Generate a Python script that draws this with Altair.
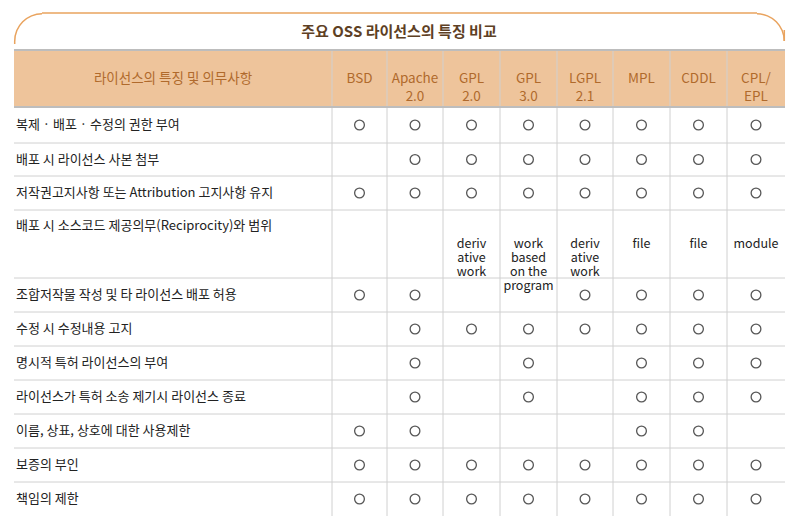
import altair as alt
import pandas as pd

title = "주요 OSS 라이선스의 특징 비교"
header_first = "라이선스의 특징 및 의무사항"
licenses = ["BSD", "Apache\n2.0", "GPL\n2.0", "GPL\n3.0", "LGPL\n2.1", "MPL", "CDDL", "CPL/\nEPL"]
features = [
    "복제 · 배포 · 수정의 권한 부여",
    "배포 시 라이선스 사본 첨부",
    "저작권고지사항 또는 Attribution 고지사항 유지",
    "배포 시 소스코드 제공의무(Reciprocity)와 범위",
    "조합저작물 작성 및 타 라이선스 배포 허용",
    "수정 시 수정내용 고지",
    "명시적 특허 라이선스의 부여",
    "라이선스가 특허 소송 제기시 라이선스 종료",
    "이름, 상표, 상호에 대한 사용제한",
    "보증의 부인",
    "책임의 제한",
]
# "O" = circle, "" = empty, other = text
cells = [
    ["O", "O", "O", "O", "O", "O", "O", "O"],
    ["", "O", "O", "O", "O", "O", "O", "O"],
    ["O", "O", "O", "O", "O", "O", "O", "O"],
    ["", "", "deriv\native\nwork", "work\nbased\non the\nprogram", "deriv\native\nwork", "file", "file", "module"],
    ["O", "O", "", "", "O", "O", "O", "O"],
    ["", "O", "O", "O", "O", "O", "O", "O"],
    ["", "O", "", "O", "", "O", "O", "O"],
    ["", "O", "", "O", "", "O", "O", "O"],
    ["O", "O", "", "", "", "O", "O", ""],
    ["O", "O", "O", "O", "O", "O", "O", "O"],
    ["O", "O", "O", "O", "O", "O", "O", "O"],
]

# layout (page pixels)
col_edges = [14, 332, 387, 443, 500, 557, 613, 670, 727, 785]
row_edges = [107, 143, 176, 210, 278, 312, 346, 380, 414, 448, 482, 516]
header_top = 50

X = alt.Scale(domain=[8, 788], range=[0, 780])
Y = alt.Scale(domain=[8, 521], range=[0, 513])
FONT = "Noto Sans CJK KR"

def enc(**kw):
    out = {}
    for k, v in kw.items():
        if k in ("x", "x2"):
            out[k] = alt.X(v, type="quantitative", scale=X, axis=None) if k == "x" else alt.X2(v)
        elif k in ("y", "y2"):
            out[k] = alt.Y(v, type="quantitative", scale=Y, axis=None) if k == "y" else alt.Y2(v)
        else:
            out[k] = v
    return out

header_bg = alt.Chart(pd.DataFrame([{"x": 14, "x2": 785, "y": header_top, "y2": row_edges[0]}])).mark_rect(
    color="#eec49b").encode(**enc(x="x", x2="x2", y="y", y2="y2"))

hlines = pd.DataFrame({"y": row_edges[1:-1]})
hrule = alt.Chart(hlines).mark_rule(color="#d0d0d0", strokeWidth=1).encode(
    **enc(y="y"), x=alt.value(6), x2=alt.value(777))
thick = alt.Chart(pd.DataFrame({"y": [header_top, row_edges[0]]})).mark_rule(color="#bdbdbd", strokeWidth=2).encode(
    **enc(y="y"), x=alt.value(6), x2=alt.value(777))
vlines = pd.DataFrame({"x": col_edges[1:-1], "y": header_top, "y2": row_edges[-1]})
vrule = alt.Chart(vlines).mark_rule(color="#d0d0d0", strokeWidth=1).encode(**enc(x="x", y="y", y2="y2"))

# title border with rounded corners
r = 28
border = alt.Chart(pd.DataFrame([{"x": 14 + r, "x2": 785 - r, "y": 13}])).mark_rule(
    color="#e9a35e", strokeWidth=1.5).encode(**enc(x="x", x2="x2", y="y"))
corners = pd.DataFrame([
    {"x": 14 + r, "y": 13 + r, "t": 4.712, "t2": 6.283},
    {"x": 785 - r, "y": 13 + r, "t": 0.0, "t2": 1.571},
])
arcs = alt.Chart(corners).mark_arc(color="#e9a35e", innerRadius=r - 1.5, outerRadius=r).encode(
    **enc(x="x", y="y"), theta=alt.Theta("t:Q", scale=None), theta2="t2:Q")
sides = alt.Chart(pd.DataFrame([{"x": 14.7, "y": 13 + r, "y2": 44}, {"x": 784.3, "y": 13 + r, "y2": 30}])).mark_rule(
    color="#e9a35e", strokeWidth=1.5).encode(**enc(x="x", y="y", y2="y2"))
title_t = alt.Chart(pd.DataFrame([{"x": 399, "y": 32, "t": title}])).mark_text(
    font=FONT, fontSize=15, fontWeight="bold", color="#5e4024").encode(**enc(x="x", y="y"), text="t:N")

# header texts
hdr = [{"x": (col_edges[0] + col_edges[1]) / 2, "t": header_first.split("\n")}]
for i, lic in enumerate(licenses):
    hdr.append({"x": (col_edges[i + 1] + col_edges[i + 2]) / 2, "t": lic.split("\n")})
hdr = pd.DataFrame(hdr)
hdr["y"] = (header_top + row_edges[0]) / 2
hdr_t = alt.Chart(hdr).mark_text(font=FONT, fontSize=13.5, color="#b06a2c", lineHeight=18).encode(
    **enc(x="x", y="y"), text="t")

# row labels
labels = pd.DataFrame({"t": features})
labels["y"] = [(row_edges[i] + row_edges[i + 1]) / 2 if i != 3 else row_edges[i] + 16 for i in range(len(features))]
labels["x"] = 16
lab_t = alt.Chart(labels).mark_text(font=FONT, fontSize=13, color="#222", align="left").encode(
    **enc(x="x", y="y"), text="t:N")

circ, txt = [], []
for i, row in enumerate(cells):
    yc = (row_edges[i] + row_edges[i + 1]) / 2
    for j, v in enumerate(row):
        xc = (col_edges[j + 1] + col_edges[j + 2]) / 2
        if v == "O":
            circ.append({"x": xc, "y": yc})
        elif v:
            txt.append({"x": xc, "y": yc, "t": v.split("\n")})
circ_m = alt.Chart(pd.DataFrame(circ)).mark_point(
    shape="circle", filled=False, color="#111", strokeWidth=1.3, size=95).encode(**enc(x="x", y="y"))
txt_m = alt.Chart(pd.DataFrame(txt)).mark_text(font=FONT, fontSize=12.5, color="#222", lineHeight=14).encode(
    **enc(x="x", y="y"), text="t")

chart = alt.layer(header_bg, hrule, vrule, thick, border, arcs, sides, title_t, hdr_t, lab_t, circ_m, txt_m).properties(
    width=780, height=513, padding=0, autosize="none"
).configure_view(stroke=None)

chart.save("out.html", embed_options={"renderer": "svg", "actions": False})
